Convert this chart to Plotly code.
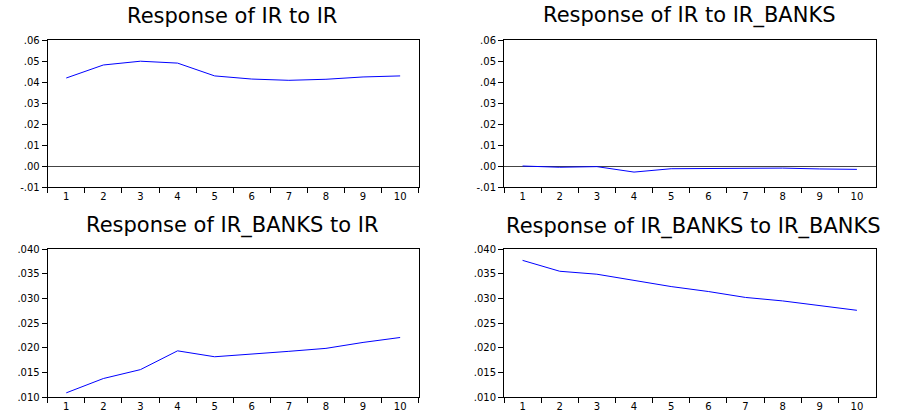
import plotly.graph_objects as go

periods = ["1", "2", "3", "4", "5", "6", "7", "8", "9", "10"]

ir_to_ir = [0.0419, 0.0481, 0.0499, 0.0490, 0.0429, 0.0414, 0.0408, 0.0413, 0.0424, 0.0429]
ir_to_irbanks = [0.0000, -0.0006, -0.0003, -0.0029, -0.0013, -0.0011, -0.0011, -0.0010, -0.0014, -0.0016]
irbanks_to_ir = [0.0109, 0.0138, 0.0156, 0.0194, 0.0182, 0.0187, 0.0193, 0.0199, 0.0211, 0.0221]
irbanks_to_irbanks = [0.0377, 0.0355, 0.0349, 0.0337, 0.0324, 0.0314, 0.0302, 0.0295, 0.0285, 0.0276]

titles = ["Response of IR to IR", "Response of IR to IR_BANKS",
          "Response of IR_BANKS to IR", "Response of IR_BANKS to IR_BANKS"]

top_tickvals = [-0.01, 0.0, 0.01, 0.02, 0.03, 0.04, 0.05, 0.06]
top_ticktext = ["-.01", ".00", ".01", ".02", ".03", ".04", ".05", ".06"]
bot_tickvals = [0.010, 0.015, 0.020, 0.025, 0.030, 0.035, 0.040]
bot_ticktext = [".010", ".015", ".020", ".025", ".030", ".035", ".040"]

W, H = 909, 415
FONT = "DejaVu Sans"

fig = go.Figure()

# panel pixel boxes (left, right, top, bottom)
boxes = [
    (47.7, 418.7, 40, 187),
    (504, 875.5, 40, 187),
    (47.7, 418.7, 249, 397.3),
    (504, 875.5, 249, 397.3),
]
series = [ir_to_ir, ir_to_irbanks, irbanks_to_ir, irbanks_to_irbanks]
title_pos = [(232, 16), (689, 16), (232, 225), (693, 226)]

layout = dict(
    width=W, height=H,
    margin=dict(l=0, r=0, t=0, b=0),
    paper_bgcolor="white", plot_bgcolor="white",
    showlegend=False,
    font=dict(family=FONT, color="black"),
)

annotations = []
for i, (vals, (l, r, t, b)) in enumerate(zip(series, boxes)):
    n = "" if i == 0 else str(i + 1)
    fig.add_trace(go.Scatter(
        x=periods, y=vals, mode="lines",
        line=dict(color="#0000FF", width=1),
        xaxis="x" + n, yaxis="y" + n, hoverinfo="skip",
    ))
    top = i < 2
    layout["xaxis" + n] = dict(
        domain=[l / W, r / W], anchor="y" + n,
        type="category", categoryorder="array", categoryarray=periods,
        range=[-0.5, len(periods) - 0.5],
        tickson="boundaries", ticks="outside", ticklen=5, tickcolor="black",
        showline=True, linecolor="black", linewidth=1, mirror=True,
        showgrid=False, zeroline=False, automargin=False,
        tickfont=dict(family=FONT, size=10, color="black"),
        ticklabelstandoff=0,
    )
    layout["yaxis" + n] = dict(
        domain=[1 - b / H, 1 - t / H], anchor="x" + n,
        range=[-0.01, 0.06] if top else [0.010, 0.040],
        tickvals=top_tickvals if top else bot_tickvals,
        ticktext=top_ticktext if top else bot_ticktext,
        ticks="outside", ticklen=5, tickcolor="black",
        showline=True, linecolor="black", linewidth=1, mirror=True,
        showgrid=False, automargin=False,
        zeroline=top, zerolinecolor="#444444", zerolinewidth=1,
        tickfont=dict(family=FONT, size=10, color="black"),
    )
    tx, ty = title_pos[i]
    annotations.append(dict(
        text=titles[i], x=tx / W, y=1 - ty / H, xref="paper", yref="paper",
        xanchor="center", yanchor="middle", showarrow=False,
        font=dict(family=FONT, size=21, color="black"),
    ))

layout["annotations"] = annotations
fig.update_layout(**layout)
fig.write_html("out.html")
